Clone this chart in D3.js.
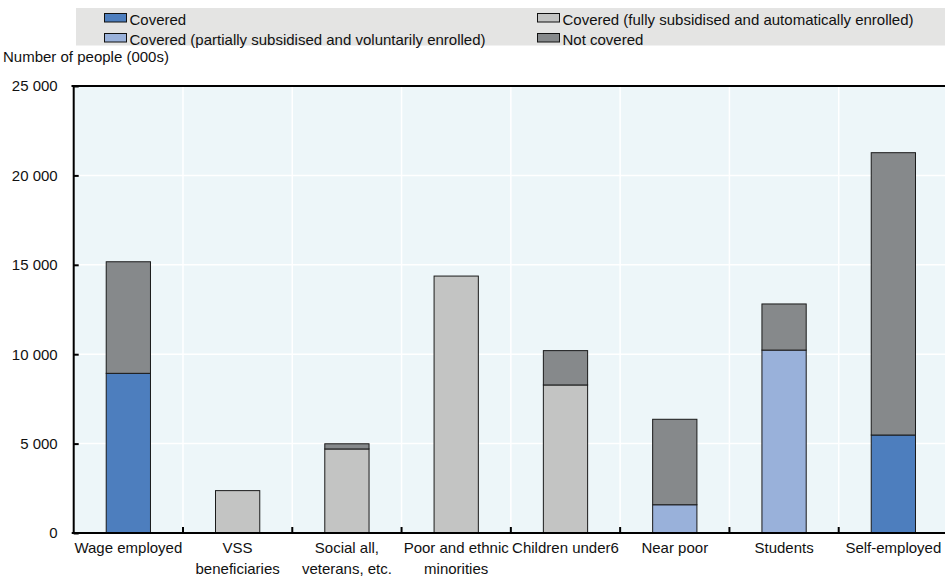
<!DOCTYPE html>
<html>
<head>
<meta charset="utf-8">
<script src="https://cdn.jsdelivr.net/npm/d3@7"></script>
<style>
  body { margin: 0; background: #fff; }
  text { font-family: "Liberation Sans", Arial, sans-serif; fill: #111; }
</style>
</head>
<body>
<svg id="chart" width="945" height="576"></svg>
<script>
// Health insurance coverage by population group (thousands of people)
const categories = [
  ["Wage employed"],
  ["VSS", "beneficiaries"],
  ["Social all,", "veterans, etc."],
  ["Poor and ethnic", "minorities"],
  ["Children under6"],
  ["Near poor"],
  ["Students"],
  ["Self-employed"]
];
const seriesNames = [
  "Covered",
  "Covered (fully subsidised and automatically enrolled)",
  "Covered (partially subsidised and voluntarily enrolled)",
  "Not covered"
];
const covered        = [8930, 0, 0, 0, 0, 0, 0, 5480];
const fullySubsid    = [0, 2370, 4700, 14370, 8280, 0, 0, 0];
const partialSubsid  = [0, 0, 0, 0, 0, 1580, 10230, 0];
const notCovered     = [6240, 0, 290, 0, 1920, 4780, 2580, 15790];
const yTicks = [0, 5000, 10000, 15000, 20000, 25000];

const colors = ["#4d7ebe", "#c3c4c3", "#99b1da", "#86898b"];
const seriesValues = [covered, fullySubsid, partialSubsid, notCovered];

const svg = d3.select("#chart");
const margin = { left: 73.7, top: 86, bottom: 533 };
const plotRight = 948;
const fontSize = 15;

const rows = categories.map((c, i) => {
  const r = { key: i };
  seriesNames.forEach((s, j) => r[s] = seriesValues[j][i]);
  return r;
});
const stacked = d3.stack().keys(seriesNames)(rows);

const x = d3.scaleBand().domain(d3.range(categories.length))
  .range([margin.left, plotRight]).paddingInner(0).paddingOuter(0);
const y = d3.scaleLinear().domain([0, 25000]).range([margin.bottom, margin.top]);

// plot background
svg.append("rect").attr("x", margin.left).attr("y", margin.top)
  .attr("width", plotRight - margin.left).attr("height", margin.bottom - margin.top)
  .attr("fill", "#edf6f9");

// gridlines
svg.append("g").selectAll("line").data(yTicks.slice(1, -1)).join("line")
  .attr("x1", margin.left).attr("x2", plotRight)
  .attr("y1", d => y(d)).attr("y2", d => y(d))
  .attr("stroke", "#fff").attr("stroke-width", 1.5);
svg.append("g").selectAll("line").data(d3.range(1, categories.length)).join("line")
  .attr("x1", d => x(d)).attr("x2", d => x(d))
  .attr("y1", margin.top).attr("y2", margin.bottom)
  .attr("stroke", "#fff").attr("stroke-width", 1.5);

// bars
const barW = x.bandwidth() * 0.405;
stacked.forEach((layer, j) => {
  svg.append("g").selectAll("rect").data(layer.filter(d => d[1] - d[0] > 0)).join("rect")
    .attr("x", d => x(d.data.key) + x.bandwidth() / 2 - barW / 2)
    .attr("width", barW)
    .attr("y", d => y(d[1]))
    .attr("height", d => y(d[0]) - y(d[1]))
    .attr("fill", colors[j])
    .attr("stroke", "#1a1a1a").attr("stroke-width", 1);
});

// y axis (ticks point into the plot)
const yAxis = d3.axisLeft(y).tickValues(yTicks).tickSize(-5).tickPadding(16)
  .tickFormat(d => d3.format(",")(d).replace(",", " "));
const gy = svg.append("g").attr("transform", `translate(${margin.left},0)`).call(yAxis);
gy.select(".domain").attr("stroke", "#000").attr("stroke-width", 2)
  .attr("d", `M-2,${margin.top}H0V${margin.bottom}`);
gy.selectAll(".tick line").attr("stroke", "#000").attr("stroke-width", 2);
gy.selectAll(".tick text").attr("font-size", fontSize)
  .style("font-family", '"Liberation Sans", Arial, sans-serif').attr("fill", "#111");

// top border
svg.append("line").attr("x1", margin.left - 2).attr("x2", plotRight)
  .attr("y1", margin.top).attr("y2", margin.top)
  .attr("stroke", "#000").attr("stroke-width", 2);

// x axis
const gx = svg.append("g").attr("transform", `translate(0,${margin.bottom})`);
gx.append("line").attr("x1", margin.left - 2).attr("x2", plotRight)
  .attr("stroke", "#000").attr("stroke-width", 2);
gx.selectAll("line.sep").data(d3.range(1, categories.length)).join("line")
  .attr("class", "sep")
  .attr("x1", d => x(d)).attr("x2", d => x(d)).attr("y1", -6).attr("y2", 0)
  .attr("stroke", "#000").attr("stroke-width", 2);

const labels = svg.append("g").selectAll("text").data(categories).join("text")
  .attr("x", (d, i) => x(i) + x.bandwidth() / 2)
  .attr("y", 553).attr("text-anchor", "middle").attr("font-size", fontSize);
labels.selectAll("tspan").data(d => d).join("tspan")
  .attr("x", function () { return this.parentNode.getAttribute("x"); })
  .attr("dy", (d, i) => i === 0 ? 0 : 20.5)
  .text(d => d);

// y axis title
svg.append("text").attr("x", 3).attr("y", 62).attr("font-size", fontSize)
  .text("Number of people (000s)");

// legend
svg.append("rect").attr("x", 76).attr("y", 8).attr("width", 869).attr("height", 37.5)
  .attr("fill", "#e4e4e3");
const legendPos = [[104.5, 13.5], [537.5, 13.5], [104.5, 33.5], [537.5, 33.5]];
const lg = svg.append("g").selectAll("g").data(d3.range(seriesNames.length)).join("g")
  .attr("transform", (d, i) => `translate(${legendPos[i][0]},${legendPos[i][1]})`);
lg.append("rect").attr("x", 0).attr("y", 0).attr("width", 22).attr("height", 8.5)
  .attr("fill", d => colors[d]).attr("stroke", "#111").attr("stroke-width", 1);
lg.append("text").attr("x", 25).attr("y", 11.3).attr("font-size", fontSize)
  .text(d => seriesNames[d]);
</script>
</body>
</html>
